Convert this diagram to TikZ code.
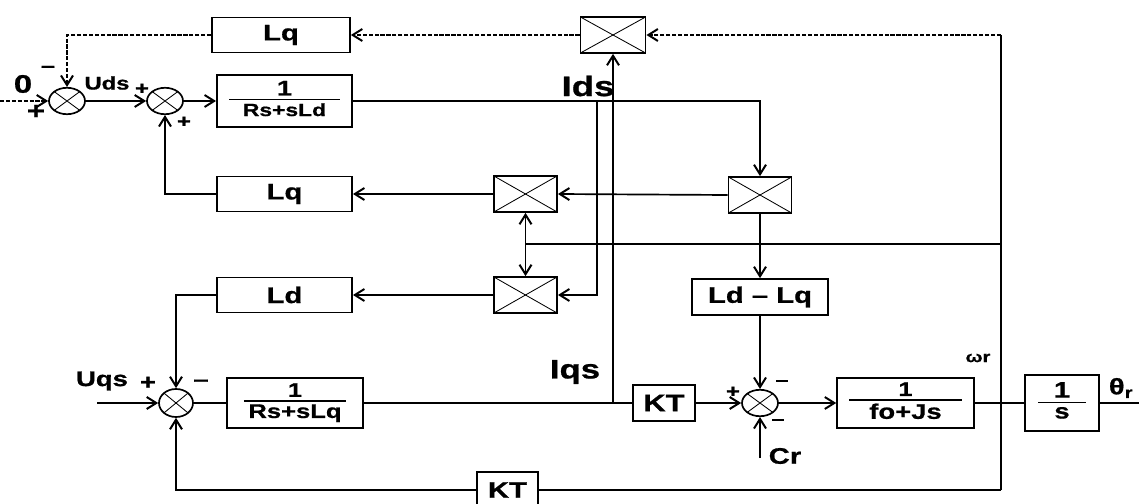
\documentclass[tikz,border=0pt]{standalone}
\usepackage{fontspec}
\setmainfont{Liberation Sans}[FakeStretch=1.3,BoldFeatures={FakeBold=0.8}]
\usetikzlibrary{arrows.meta,shapes.geometric}
\newcommand{\fsz}[1]{\fontsize{#1}{#1}\selectfont}
\newcommand{\blockfrac}[3]{\renewcommand{\arraystretch}{0.8}\setlength{\arrayrulewidth}{1pt}%
  \begin{tabular}{@{}c@{}}#2\\[-1pt]\hline\noalign{\vskip 2pt}\makebox[#1]{#3}\end{tabular}}

\begin{document}
\begin{tikzpicture}[x=0.025cm,y=-0.025cm,line width=1.2pt,
  >={Straight Barb[length=2.4mm,width=3mm,line width=1.4pt]},
  blk/.style={draw,rectangle,inner sep=0pt,font=\bfseries\fsz{15}},
  xcross/.style={path picture={\draw[line width=0.6pt]
    (path picture bounding box.north west)--(path picture bounding box.south east)
    (path picture bounding box.south west)--(path picture bounding box.north east);}},
  mult/.style={draw,rectangle,xcross,minimum width=1.58cm,minimum height=0.9cm,inner sep=0pt},
  summ/.style={draw,ellipse,xcross,minimum width=0.9cm,minimum height=0.66cm,inner sep=0pt},
  lbl/.style={inner sep=0pt,font=\bfseries\fsz{#1}},
  lbl/.default=12,
  dline/.style={dash pattern=on 3pt off 1.2pt,line width=0.9pt}]
  \useasboundingbox (0,0) rectangle (1139,504);

  \node[blk,minimum width=3.45cm,minimum height=0.875cm,font=\bfseries\fsz{16}] (lqT) at (281,35) {Lq};
  \node[mult,minimum width=1.63cm] (mulT) at (613,35) {};
  \node[summ] (sumA) at (67,101) {};
  \node[summ] (sumB) at (165,101) {};
  \node[blk,minimum width=3.38cm,minimum height=1.3cm,font=\bfseries\fsz{15}] (gd) at (284.5,101)
    {\blockfrac{2.75cm}{1}{\fsz{12.5}Rs+sLd}};
  \node[blk,minimum width=3.38cm,minimum height=0.875cm,font=\bfseries\fsz{16}] (lqM) at (284.5,194) {Lq};
  \node[mult] (mulA) at (525.5,194) {};
  \node[mult] (mulB) at (760,195) {};
  \node[blk,minimum width=3.38cm,minimum height=0.875cm,font=\bfseries\fsz{16}] (ld) at (284.5,295) {Ld};
  \node[mult] (mulC) at (525.5,295) {};
  \node[blk,minimum width=3.4cm,minimum height=0.9cm,font=\bfseries\fsz{16}] (ldlq) at (760,297) {Ld – Lq};
  \node[summ,minimum width=0.85cm,minimum height=0.7cm] (sumC) at (176,403) {};
  \node[blk,minimum width=3.4cm,minimum height=1.25cm,font=\bfseries\fsz{14}] (gq) at (295,403)
    {\blockfrac{2.55cm}{1}{\fsz{14}Rs+sLq}};
  \node[blk,minimum width=1.55cm,minimum height=0.9cm,font=\bfseries\fsz{17}] (ktA) at (664,403) {KT};
  \node[summ] (sumD) at (760,403) {};
  \node[blk,minimum width=3.42cm,minimum height=1.25cm,font=\bfseries\fsz{14}] (gm) at (905.5,403)
    {\blockfrac{2.8cm}{1}{\fsz{15}fo+Js}};
  \node[blk,minimum width=1.85cm,minimum height=1.4cm,font=\bfseries\fsz{16}] (integ) at (1062,403)
    {\blockfrac{1.18cm}{1}{\fsz{15}s}};
  \node[blk,minimum width=1.52cm,minimum height=0.9cm,font=\bfseries\fsz{16}] (ktB) at (507.5,490) {KT};

  \coordinate (in0) at (0,101);
  \coordinate (inq) at (97,403);
  \coordinate (jd) at (597,101);
  \coordinate (jq) at (613,403);
  \coordinate (jw) at (1001,403);
  \coordinate (jm) at (525.5,244);
  \coordinate (cr) at (760,458);
  \coordinate (out) at (1139,403);

  \draw (jw |- mulT) -- (jw |- ktB);
  \draw[dline,->] (jw |- mulT) -- (mulT.east);
  \draw[dline,->] (mulT.west) -- (lqT.east);
  \draw[dline,->] (lqT.west) -| (sumA.north);
  \draw[dline,->] (in0) -- (sumA.west);
  \draw[->] (sumA.east) -- (sumB.west);
  \draw[->] (sumB.east) -- (gd.west);
  \draw[->] (lqM.west) -| (sumB.south);
  \draw[->] (gd.east) -| (mulB.north);
  \draw[->] (jd) |- (mulC.east);
  \draw[->] (jq) -- (mulT.south);
  \draw[->] (mulB.west) -- (mulA.east);
  \draw[->] (mulA.west) -- (lqM.east);
  \draw[->] (mulC.west) -- (ld.east);
  \draw[<->] (mulA.south) -- (mulC.north);
  \draw (jm) -- (jm -| jw);
  \draw[->] (mulB.south) -- (ldlq.north);
  \draw[->] (ldlq.south) -- (sumD.north);
  \draw[->] (ktA.east) -- (sumD.west);
  \draw[->] (cr) -- (sumD.south);
  \draw[->] (sumD.east) -- (gm.west);
  \draw (gm.east) -- (integ.west);
  \draw (integ.east) -- (out);
  \draw[->] (inq) -- (sumC.west);
  \draw[->] (ld.west) -| (sumC.north);
  \draw (sumC.east) -- (gq.west);
  \draw (gq.east) -- (ktA.west);
  \draw (jw |- ktB) -- (ktB.east);
  \draw[->] (ktB.west) -| (sumC.south);

  \node[lbl=18] at (23,84) {0};
  \node[lbl=14] at (48,69) {–};
  \node[lbl=17] at (36,112) {+};
  \node[lbl=13] at (107,83) {Uds};
  \node[lbl=13] at (142,89) {+};
  \node[lbl=13] at (184,122) {+};
  \node[lbl=20] at (588,86) {Ids};
  \node[lbl=19] at (575,372) {Iqs};
  \node[lbl=15] at (102,381) {Uqs};
  \node[lbl=15] at (148,383) {+};
  \node[lbl=15] at (201,383) {–};
  \node[lbl=13] at (733,392) {+};
  \node[lbl=13] at (782,383) {–};
  \node[lbl=13] at (778,422) {–};
  \node[lbl=16] at (785,456) {Cr};
  \node[lbl=11] at (978,358) {ωr};
  \node[lbl=16,anchor=west] at (1108,388) {θ\textsubscript{r}};
\end{tikzpicture}
\end{document}
